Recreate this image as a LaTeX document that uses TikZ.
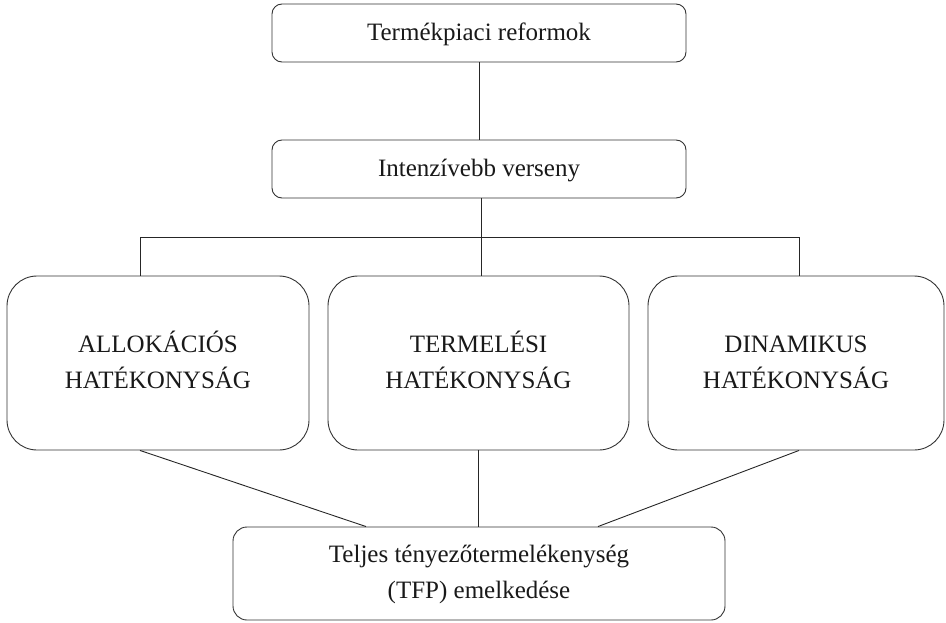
\documentclass[tikz,border=0pt]{standalone}
\usepackage{fontspec}
\setmainfont{Liberation Serif}
\newcommand{\lines}[2]{\raisebox{#1}{\begin{tabular}{@{}c@{}}#2\end{tabular}}}
\begin{document}
\begin{tikzpicture}[x=1pt,y=-1pt,
  line width=0.9pt,
  every node/.style={font=\fontsize{25}{36}\selectfont, text=black!90, align=center},
  smallbox/.style={draw=black!80, rounded corners=10pt, minimum width=414pt, minimum height=58pt, inner sep=0pt},
  bigbox/.style={draw=black!80, rounded corners=30pt, minimum height=174pt, inner sep=0pt},
  conn/.style={draw=black!85, line width=0.9pt}]
\useasboundingbox (0,0) rectangle (946,623);
\node[smallbox] (top) at (479,33) {\lines{-5pt}{Termékpiaci reformok}};
\node[smallbox] (mid) at (479,169) {\lines{-6pt}{Intenzívebb verseny}};
\node[bigbox, minimum width=302pt] (L) at (158,363) {\lines{-8pt}{ALLOKÁCIÓS\\HATÉKONYSÁG}};
\node[bigbox, minimum width=301pt] (M) at (478.5,363) {\lines{-8pt}{TERMELÉSI\\HATÉKONYSÁG}};
\node[bigbox, minimum width=296pt] (R) at (796,363) {\lines{-8pt}{DINAMIKUS\\HATÉKONYSÁG}};
\node[draw=black!80, rounded corners=14pt, minimum width=492pt, minimum height=93pt, inner sep=0pt] (B) at (479,573.5) {\lines{-10pt}{Teljes tényezőtermelékenység\\(TFP) emelkedése}};
\coordinate (jl) at (140,237);
\coordinate (jr) at (799,237);
\coordinate (jm) at (481,237);
\coordinate (bl) at (366,527);
\coordinate (br) at (598,527);
\draw[conn] (top.south) -- (mid.north);
\draw[conn] (mid.south -| jm) -- (M.north -| jm);
\draw[conn] (L.north -| jl) -- (jl) -- (jr) -- (R.north -| jr);
\draw[conn] (L.south -| jl) -- (B.north -| bl);
\draw[conn] (M.south) -- (B.north -| M.south);
\draw[conn] (R.south -| jr) -- (B.north -| br);
\end{tikzpicture}
\end{document}
